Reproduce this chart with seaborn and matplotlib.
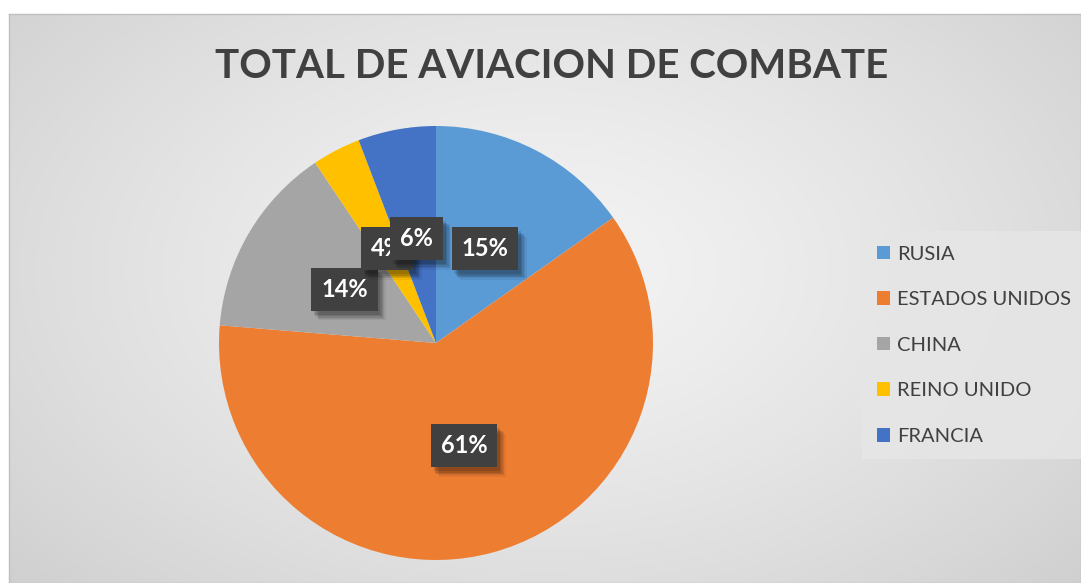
import numpy as np
import matplotlib
matplotlib.use("Agg")
import matplotlib.pyplot as plt
import matplotlib.patheffects as pe
from matplotlib.patches import Patch
import seaborn as sns

categories = ["RUSIA", "ESTADOS UNIDOS", "CHINA", "REINO UNIDO", "FRANCIA"]
values = [15.2, 61.1, 14.3, 3.6, 5.8]
colors = ["#5B9BD5", "#ED7D31", "#A5A5A5", "#FFC000", "#4472C4"]
title = "TOTAL DE AVIACION DE COMBATE"

sns.set_style("white")
plt.rcParams["font.family"] = ["Lato", "DejaVu Sans"]

W, H = 1081, 583
fig = plt.figure(figsize=(W / 100, H / 100), dpi=100)
fig.patch.set_facecolor("white")

# background gradient panel (chart area)
bg = fig.add_axes([9 / W, 0, 1 - 9 / W, 1 - 14 / H])
yy, xx = np.mgrid[0:1:300j, 0:1:600j]
r = np.sqrt(((xx - 0.5) / 0.75) ** 2 + ((yy - 0.45) / 0.9) ** 2)
g = 0.955 - 0.16 * np.clip(r, 0, 1) ** 1.3
bg.imshow(np.dstack([g, g, g]), aspect="auto", extent=[0, 1, 0, 1], origin="upper")
bg.set_xlim(0, 1)
bg.set_ylim(0, 1)
bg.set_xticks([])
bg.set_yticks([])
for s in bg.spines.values():
    s.set_color("#bfbfbf")
    s.set_linewidth(1)

# pie axes
cx, cy, rad = 436, 343, 217
ax = fig.add_axes([(cx - rad) / W, (H - cy - rad) / H, 2 * rad / W, 2 * rad / H])
ax.set_facecolor("none")
wedges, texts, autotexts = ax.pie(
    values, colors=colors, startangle=90, counterclock=False,
    autopct=lambda p: f"{p:.0f}%", pctdistance=0.49, radius=1,
    wedgeprops=dict(linewidth=0),
    textprops=dict(color="white", fontsize=17, fontweight="bold"),
)
ax.set_xlim(-1, 1)
ax.set_ylim(-1, 1)
ax.set_aspect("auto")
ax.axis("off")
shadow = [pe.withSimplePatchShadow(offset=(o, -o - 1), shadow_rgbFace="black", alpha=a)
          for o, a in [(6, 0.06), (5, 0.08), (4, 0.1), (3, 0.12), (2, 0.12)]]
for t in autotexts:
    t.set_bbox(dict(boxstyle="square,pad=0.42", facecolor="#404040", edgecolor="none"))
    t.get_bbox_patch().set_path_effects(shadow + [pe.Normal()])

# title
fig.text(552 / W, 1 - 67 / H, title, ha="center", va="center",
         fontsize=29, fontweight="bold", color="#404040")

# legend
handles = [Patch(facecolor=c, edgecolor="none") for c in colors]
leg = fig.legend(handles, categories, loc="upper left",
                 bbox_to_anchor=(862 / W, 1 - 231 / H), fontsize=14.5,
                 frameon=True, fancybox=False, labelspacing=1.42,
                 handlelength=0.65, handleheight=0.65, handletextpad=0.35,
                 borderpad=0.72, borderaxespad=0)
leg.get_frame().set_facecolor("#e6e6e6")
leg.get_frame().set_edgecolor("none")
leg.get_frame().set_alpha(0.85)
for t in leg.get_texts():
    t.set_color("#404040")

fig.savefig("out.png", dpi=100)
